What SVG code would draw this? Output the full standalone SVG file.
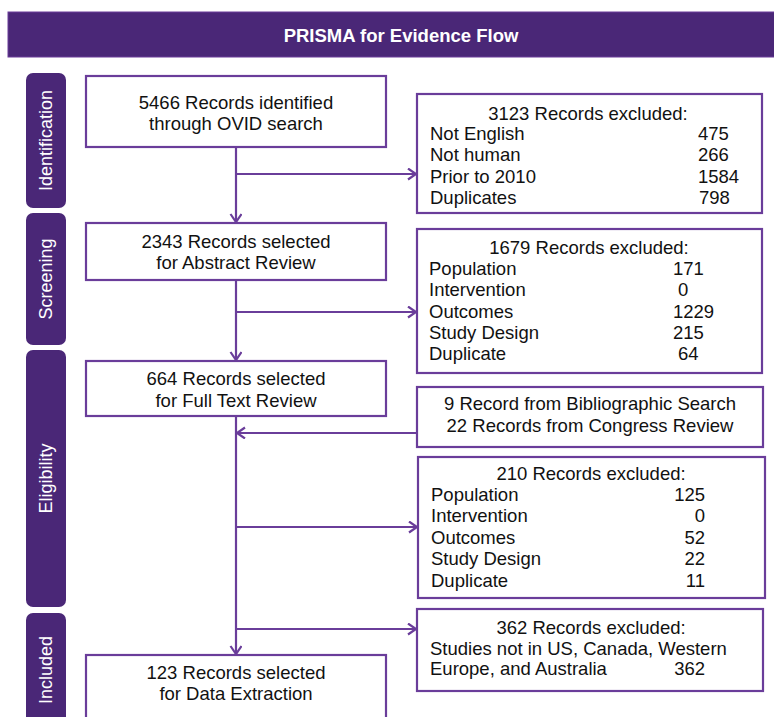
<svg xmlns="http://www.w3.org/2000/svg" width="774" height="717" viewBox="0 0 774 717">
  <defs>
    <style>
      .hdr { fill: #4A2777; stroke: #6A3D9A; stroke-width: 1; }
      .tab { fill: #4A2777; }
      .box { fill: #ffffff; stroke: #6A3D9A; stroke-width: 2.2; }
      .t { font-family: "Liberation Sans", Arial, sans-serif; font-size: 18.5px; fill: #111111; }
      .c { text-anchor: middle; }
      .e { text-anchor: end; }
      .tabt { font-family: "Liberation Sans", Arial, sans-serif; font-size: 18px; fill: #ffffff; text-anchor: middle; }
      .title { font-family: "Liberation Sans", Arial, sans-serif; font-size: 18.5px; font-weight: bold; fill: #ffffff; text-anchor: middle; }
      .conn line { stroke: #6A3D9A; stroke-width: 2.2; fill: none; }
    </style>
    <marker id="arr" markerUnits="userSpaceOnUse" markerWidth="14" markerHeight="14" refX="9" refY="6" orient="auto">
      <path d="M1,0.5 L9,6 L1,11.5" fill="none" stroke="#6A3D9A" stroke-width="2.2"/>
    </marker>
  </defs>

  <rect width="774" height="717" fill="#ffffff"/>

  <g id="header">
    <rect class="hdr" x="8" y="12" width="790" height="45"/>
    <text class="title" x="401" y="41.5">PRISMA for Evidence Flow</text>
  </g>

  <g id="tab-identification">
    <rect class="tab" x="26" y="73" width="40" height="135" rx="7"/>
    <text class="tabt" transform="translate(46,140.5) rotate(-90)" dy="6.3">Identification</text>
  </g>
  <g id="tab-screening">
    <rect class="tab" x="26" y="213" width="40" height="132" rx="7"/>
    <text class="tabt" transform="translate(46,279) rotate(-90)" dy="6.3">Screening</text>
  </g>
  <g id="tab-eligibility">
    <rect class="tab" x="26" y="350" width="40" height="257" rx="7"/>
    <text class="tabt" transform="translate(46,478.5) rotate(-90)" dy="6.3">Eligibility</text>
  </g>
  <g id="tab-included">
    <rect class="tab" x="26" y="613" width="40" height="130" rx="7"/>
    <text class="tabt" transform="translate(46,670) rotate(-90)" dy="6.3">Included</text>
  </g>

  <g class="conn" id="connectors">
    <line x1="236" y1="147" x2="236" y2="222" marker-end="url(#arr)"/>
    <line x1="236" y1="174" x2="416" y2="174" marker-end="url(#arr)"/>
    <line x1="236" y1="280" x2="236" y2="360" marker-end="url(#arr)"/>
    <line x1="237" y1="312" x2="416" y2="312" marker-end="url(#arr)"/>
    <line x1="417" y1="433" x2="237" y2="433" marker-end="url(#arr)"/>
    <line x1="236" y1="416" x2="236" y2="654" marker-end="url(#arr)"/>
    <line x1="236" y1="527" x2="417" y2="527" marker-end="url(#arr)"/>
    <line x1="236" y1="629" x2="416" y2="629" marker-end="url(#arr)"/>
  </g>

  <g id="n-identified">
    <rect class="box" x="86" y="76" width="300" height="71"/>
    <text class="t c" x="236" y="108.5">5466 Records identified</text>
    <text class="t c" x="236" y="129.5">through OVID search</text>
  </g>

  <g id="n-abstract">
    <rect class="box" x="86" y="223" width="300" height="57"/>
    <text class="t c" x="236" y="247.5">2343 Records selected</text>
    <text class="t c" x="236" y="268.5">for Abstract Review</text>
  </g>

  <g id="n-fulltext">
    <rect class="box" x="86" y="361" width="300" height="55"/>
    <text class="t c" x="236" y="384.5">664 Records selected</text>
    <text class="t c" x="236" y="406.5">for Full Text Review</text>
  </g>

  <g id="n-extraction">
    <rect class="box" x="86" y="655" width="300" height="80"/>
    <text class="t c" x="236" y="678.5">123 Records selected</text>
    <text class="t c" x="236" y="699.5">for Data Extraction</text>
  </g>

  <g id="n-excl-1">
    <rect class="box" x="417" y="94" width="345" height="119"/>
    <text class="t c" x="588" y="119.5">3123 Records excluded:</text>
    <text class="t" x="430" y="139.5">Not English</text>
    <text class="t" x="698" y="139.5">475</text>
    <text class="t" x="430" y="160.5">Not human</text>
    <text class="t" x="698" y="160.5">266</text>
    <text class="t" x="430" y="182.5">Prior to 2010</text>
    <text class="t" x="698" y="182.5">1584</text>
    <text class="t" x="430" y="203.5">Duplicates</text>
    <text class="t" x="699" y="203.5">798</text>
  </g>

  <g id="n-excl-2">
    <rect class="box" x="417" y="229" width="345" height="144"/>
    <text class="t c" x="589" y="253.5">1679 Records excluded:</text>
    <text class="t" x="429" y="274.5">Population</text>
    <text class="t" x="673" y="274.5">171</text>
    <text class="t" x="429" y="295.5">Intervention</text>
    <text class="t" x="678" y="295.5">0</text>
    <text class="t" x="429" y="317.5">Outcomes</text>
    <text class="t" x="673" y="317.5">1229</text>
    <text class="t" x="429" y="338.5">Study Design</text>
    <text class="t" x="673" y="338.5">215</text>
    <text class="t" x="429" y="360">Duplicate</text>
    <text class="t" x="678" y="360">64</text>
  </g>

  <g id="n-additional">
    <rect class="box" x="417" y="387" width="346" height="60"/>
    <text class="t c" x="590" y="409.5">9 Record from Bibliographic Search</text>
    <text class="t c" x="590" y="431.5">22 Records from Congress Review</text>
  </g>

  <g id="n-excl-3">
    <rect class="box" x="418" y="457" width="347" height="141"/>
    <text class="t c" x="591" y="479.5">210 Records excluded:</text>
    <text class="t" x="431" y="500.5">Population</text>
    <text class="t e" x="705" y="500.5">125</text>
    <text class="t" x="431" y="521.5">Intervention</text>
    <text class="t e" x="705" y="521.5">0</text>
    <text class="t" x="431" y="543.5">Outcomes</text>
    <text class="t e" x="705" y="543.5">52</text>
    <text class="t" x="431" y="564.5">Study Design</text>
    <text class="t e" x="705" y="564.5">22</text>
    <text class="t" x="431" y="586.5">Duplicate</text>
    <text class="t e" x="705" y="586.5">11</text>
  </g>

  <g id="n-excl-4">
    <rect class="box" x="417" y="609" width="346" height="82"/>
    <text class="t c" x="591" y="633.5">362 Records excluded:</text>
    <text class="t" x="430" y="654.5">Studies not in US, Canada, Western</text>
    <text class="t" x="430" y="674.5">Europe, and Australia</text>
    <text class="t e" x="705" y="674.5">362</text>
  </g>
</svg>
